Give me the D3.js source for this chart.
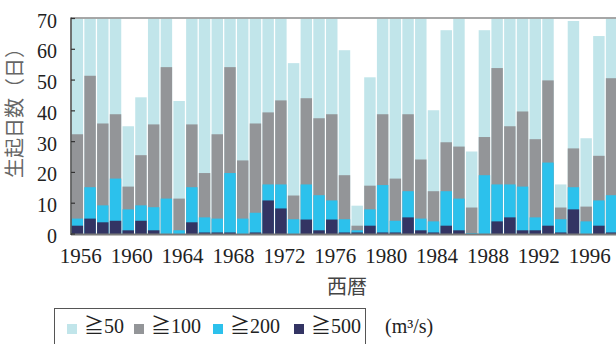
<!DOCTYPE html>
<html>
<head>
<meta charset="utf-8">
<script src="https://cdn.jsdelivr.net/npm/d3@7"></script>
<style>
  body { margin: 0; background: #fff; }
</style>
</head>
<body>
<svg width="616" height="344"></svg>
<script>
var years = d3.range(1956, 1999);

// days per year with discharge over each threshold (m3/s)
var ge50 = [70, 70, 70, 70, 35, 44.4, 70, 70, 43.2, 70,
            70, 70, 70, 70, 70, 70, 70, 55.5, 70, 70,
            70, 59.7, 9.2, 50.9, 70, 70, 70, 70, 40.2, 66.2,
            70, 26.8, 66.2, 70, 70, 70, 70, 70, 16.1, 69.2,
            31.1, 64.3, 70];
var ge100 = [32.4, 51.4, 35.9, 38.9, 15.4, 25.6, 35.6, 54.2, 11.5, 35.6,
             19.8, 32.4, 54.2, 23.9, 35.9, 39.5, 43.4, 12.5, 44.1, 37.6,
             38.9, 19.1, 2.7, 15.7, 38.9, 18, 38.9, 24.2, 13.9, 29.8,
             28.4, 8.6, 31.5, 53.9, 35, 39.8, 30.8, 49.9, 8.6, 27.8,
             8.9, 25.4, 50.6];
var ge200 = [5, 15.2, 9.3, 18, 8, 9.3, 8.7, 11.5, 1.2, 15.2,
             5.4, 5, 19.8, 5, 6.9, 16.1, 16.1, 4.8, 16.1, 12.6,
             10.9, 4.8, 1.2, 8, 15.9, 4.3, 13.9, 5, 4.1, 13.9,
             11.5, 0.3, 19.1, 16.1, 16.1, 15.4, 5.4, 23.2, 4.8, 15.2,
             4.1, 10.9, 12.6];
var ge500 = [2.7, 5, 3.8, 4.3, 1.2, 4.3, 1.2, 0, 0, 3.8,
             0.5, 0.5, 0.5, 0, 0.5, 10.9, 8.3, 0, 4.7, 1.2,
             4.7, 0.5, 0.5, 2.7, 0.5, 0.5, 5.4, 1.2, 0.5, 2.7,
             1.2, 0, 0, 4.1, 5.4, 1.2, 1.2, 2.7, 0.5, 8, 0, 2.7, 0.5];

var seriesNames = ["≧50", "≧100", "≧200", "≧500"];
var seriesColors = ["#c1e5ea", "#939598", "#2cc1ec", "#333463"];
var yTicks = [0, 10, 20, 30, 40, 50, 60, 70];
var xTicks = [1956, 1960, 1964, 1968, 1972, 1976, 1980, 1984, 1988, 1992, 1996];

var serif = "'Liberation Serif', 'Times New Roman', serif";
var gothic = "'Noto Sans CJK JP', sans-serif";

var svg = d3.select("svg"),
    plotLeft = 71, plotTop = 18.5, plotBottom = 234;

var x = d3.scaleBand()
    .domain(years)
    .range([plotLeft, plotLeft + years.length * 12.72])
    .paddingInner(0.1)
    .paddingOuter(0.05);

var y = d3.scaleLinear()
    .domain([0, 70])
    .range([plotBottom, plotTop]);

svg.append("clipPath").attr("id", "plot")
  .append("rect")
    .attr("x", plotLeft).attr("y", plotTop)
    .attr("width", 616 - plotLeft).attr("height", plotBottom - plotTop);

var series = [ge50, ge100, ge200, ge500];

// bars overlap: every threshold drawn from zero, biggest first
svg.append("g")
    .attr("clip-path", "url(#plot)")
  .selectAll("g")
  .data(series)
  .enter().append("g")
    .attr("fill", function(d, i) { return seriesColors[i]; })
  .selectAll("rect")
  .data(function(d) { return d; })
  .enter().append("rect")
    .attr("x", function(d, i) { return x(years[i]); })
    .attr("width", x.bandwidth())
    .attr("y", function(d) { return y(Math.min(d, 70)); })
    .attr("height", function(d) { return plotBottom - y(Math.min(d, 70)); });

// frame
svg.append("line")
    .attr("x1", plotLeft).attr("x2", 616)
    .attr("y1", 18).attr("y2", 18)
    .attr("stroke", "#8a8a8a").attr("stroke-width", 1.6);
svg.append("line")
    .attr("x1", plotLeft).attr("x2", 616)
    .attr("y1", plotBottom + 0.5).attr("y2", plotBottom + 0.5)
    .attr("stroke", "#7a7a7a").attr("stroke-width", 2);
svg.append("line")
    .attr("x1", plotLeft).attr("x2", plotLeft)
    .attr("y1", 17.5).attr("y2", plotBottom + 1)
    .attr("stroke", "#444").attr("stroke-width", 1.5);

// y axis: inward ticks, labels off to the left
var yAxis = svg.append("g").attr("font-family", serif).attr("font-size", 20);
yAxis.selectAll("line")
  .data(yTicks)
  .enter().append("line")
    .attr("x1", plotLeft).attr("x2", plotLeft + 4)
    .attr("y1", function(d) { return y(d); })
    .attr("y2", function(d) { return y(d); })
    .attr("stroke", "#333").attr("stroke-width", 1.2);
yAxis.selectAll("text")
  .data(yTicks)
  .enter().append("text")
    .attr("x", 57)
    .attr("y", function(d) { return y(d) + 2; })
    .attr("dy", "0.35em")
    .attr("text-anchor", "end")
    .attr("fill", "#222")
    .text(function(d) { return d; });

svg.append("g")
    .attr("font-family", serif).attr("font-size", 21)
  .selectAll("text")
  .data(xTicks)
  .enter().append("text")
    .attr("x", function(d) { return x(d) + x.bandwidth() / 2 + 3.5; })
    .attr("y", 263)
    .attr("text-anchor", "middle")
    .attr("fill", "#222")
    .text(function(d) { return d; });

svg.append("text")
    .attr("transform", "translate(22,108) rotate(-90)")
    .attr("text-anchor", "middle")
    .attr("font-family", gothic).attr("font-size", 20)
    .attr("fill", "#666")
    .text("生起日数（日）");

svg.append("text")
    .attr("x", 347).attr("y", 294)
    .attr("text-anchor", "middle")
    .attr("font-family", gothic).attr("font-size", 20)
    .attr("fill", "#444")
    .text("西暦");

// legend
svg.append("rect")
    .attr("x", 54.5).attr("y", 308.5)
    .attr("width", 311).attr("height", 50)
    .attr("fill", "none").attr("stroke", "#555");

var legendX = [67, 134, 213, 294];
var item = svg.append("g").selectAll("g")
  .data(seriesNames)
  .enter().append("g")
    .attr("transform", function(d, i) { return "translate(" + legendX[i] + ",0)"; });
item.append("rect")
    .attr("y", 324).attr("width", 10).attr("height", 10)
    .attr("fill", function(d, i) { return seriesColors[i]; });
item.append("text")
    .attr("x", 17).attr("y", 333)
    .attr("font-family", serif + ", " + gothic).attr("font-size", 20)
    .attr("fill", "#222")
    .text(function(d) { return d; });

svg.append("text")
    .attr("x", 385).attr("y", 333)
    .attr("font-family", serif).attr("font-size", 20)
    .attr("fill", "#222")
    .text("(m³/s)");
</script>
</body>
</html>
